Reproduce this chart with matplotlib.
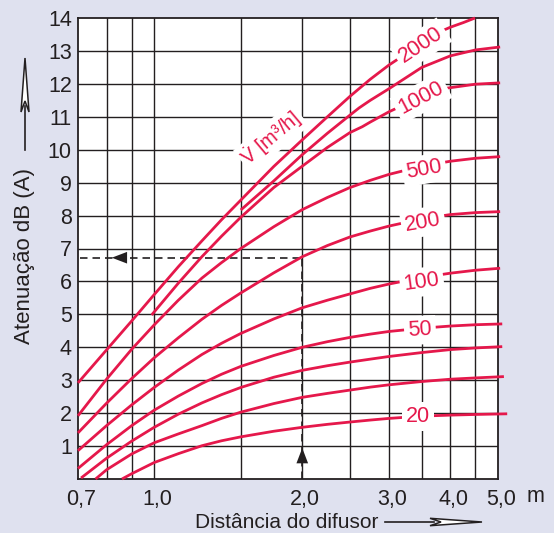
import matplotlib.pyplot as plt
from matplotlib.patches import Polygon
from matplotlib.ticker import NullLocator
from matplotlib.transforms import ScaledTranslation

plt.rcParams['font.family'] = ['Liberation Sans', 'DejaVu Sans']
plt.rcParams['mathtext.fontset'] = 'custom'
plt.rcParams['mathtext.rm'] = 'Liberation Sans'
plt.rcParams['mathtext.it'] = 'Liberation Sans:italic'

RED = '#e5184b'
BG = '#dfe1ef'
INK = '#231f20'

# attenuation dB(A) against distance from the diffuser [m], one curve per airflow
x_2000 = [0.7, 0.8, 0.9, 1.0, 1.12, 1.25, 1.37, 1.5, 1.75, 2.0, 2.25, 2.5, 2.75, 3.0, 3.5,
          3.85, 4.0, 4.25, 4.49]
y_2000 = [2.92, 3.92, 4.80, 5.60, 6.45, 7.23, 7.87, 8.47, 9.49, 10.30, 11.0, 11.62, 12.14,
          12.57, 13.23, 13.61, 13.72, 13.86, 14.0]
x_1500 = [1.5, 1.75, 2.0, 2.25, 2.5, 2.61, 2.75, 3.0, 3.5, 4.0, 4.5, 5.05]
y_1500 = [8.17, 9.05, 9.85, 10.50, 11.05, 11.27, 11.50, 11.85, 12.50, 12.85, 13.03, 13.12]
x_1000 = [0.988, 1.12, 1.25, 1.37, 1.5, 1.75, 2.0, 2.25, 2.5, 2.65, 2.75, 3.0, 3.5, 3.94,
          4.5, 5.05]
y_1000 = [4.98, 5.95, 6.75, 7.37, 7.95, 8.85, 9.50, 10.07, 10.52, 10.70, 10.84, 11.15, 11.62,
          11.87, 11.99, 12.03]
x_500 = [0.7, 0.8, 0.9, 1.0, 1.118, 1.25, 1.37, 1.5, 1.75, 2.0, 2.25, 2.5, 2.75, 3.0, 3.5,
         4.0, 4.5, 5.05]
y_500 = [1.92, 3.03, 3.94, 4.68, 5.42, 6.10, 6.57, 7.00, 7.66, 8.18, 8.55, 8.85, 9.07, 9.25,
         9.50, 9.65, 9.74, 9.79]
x_200 = [0.7, 0.8, 0.9, 1.0, 1.12, 1.25, 1.37, 1.5, 1.75, 2.0, 2.25, 2.5, 2.75, 3.0, 3.5,
         4.0, 4.5, 5.05]
y_200 = [1.40, 2.30, 3.05, 3.68, 4.29, 4.85, 5.27, 5.65, 6.26, 6.75, 7.09, 7.35, 7.53, 7.68,
         7.90, 8.03, 8.09, 8.12]
x_100 = [0.7, 0.8, 0.9, 1.0, 1.12, 1.25, 1.37, 1.5, 1.75, 2.0, 2.25, 2.5, 2.75, 3.0, 3.5,
         4.0, 4.5, 5.05]
y_100 = [0.86, 1.62, 2.25, 2.78, 3.31, 3.78, 4.12, 4.42, 4.86, 5.20, 5.43, 5.62, 5.79, 5.92,
         6.12, 6.25, 6.34, 6.40]
x_50 = [0.7, 0.8, 0.9, 1.0, 1.12, 1.25, 1.37, 1.5, 1.75, 2.0, 2.25, 2.5, 2.75, 3.0, 3.5,
        4.0, 4.5, 5.1]
y_50 = [0.32, 1.04, 1.62, 2.09, 2.52, 2.90, 3.18, 3.42, 3.75, 4.00, 4.17, 4.30, 4.40, 4.48,
        4.58, 4.645, 4.685, 4.71]
x_40 = [0.71, 0.8, 0.9, 1.0, 1.12, 1.25, 1.37, 1.5, 1.75, 2.0, 2.25, 2.5, 2.75, 3.0, 3.5,
        4.0, 4.5, 5.1]
y_40 = [0.03, 0.63, 1.15, 1.57, 1.97, 2.31, 2.56, 2.78, 3.09, 3.30, 3.44, 3.55, 3.64, 3.72,
        3.84, 3.93, 3.98, 4.02]
x_30 = [0.76, 0.8, 0.9, 1.0, 1.12, 1.25, 1.37, 1.5, 1.75, 2.0, 2.25, 2.5, 2.75, 3.0, 3.5,
        4.0, 4.5, 5.14]
y_30 = [0.0, 0.28, 0.76, 1.10, 1.37, 1.62, 1.84, 2.03, 2.29, 2.48, 2.60, 2.70, 2.79, 2.86,
        2.96, 3.03, 3.07, 3.11]
x_20 = [0.86, 0.9, 1.0, 1.12, 1.25, 1.37, 1.5, 1.75, 2.0, 2.25, 2.5, 2.75, 3.0, 3.5, 4.0,
        4.5, 5.22]
y_20 = [0.0, 0.16, 0.50, 0.77, 1.01, 1.16, 1.28, 1.45, 1.57, 1.66, 1.73, 1.79, 1.84, 1.91,
        1.94, 1.96, 1.98]

curves = [(x_2000, y_2000), (x_1500, y_1500), (x_1000, y_1000), (x_500, y_500),
          (x_200, y_200), (x_100, y_100), (x_50, y_50), (x_40, y_40),
          (x_30, y_30), (x_20, y_20)]

x_ticks = [0.7, 1.0, 2.0, 3.0, 4.0, 5.0]
x_tick_labels = ['0,7', '1,0', '2,0', '3,0', '4,0', '5,0']
x_grid = [0.8, 0.9, 1.0, 1.5, 2.0, 2.5, 3.0, 3.5, 4.0, 4.5]
y_ticks = list(range(1, 15))

# worked example: 200 m³/h at 2,0 m gives about 6,7 dB(A)
example_x = 2.0
example_y = 6.72

fig = plt.figure(figsize=(5.54, 5.33), dpi=100, facecolor=BG)
ax = fig.add_axes([78 / 554, 54 / 533, 420 / 554, 461 / 533])
ax.set_facecolor('white')
ax.set_xscale('log')
ax.set_xlim(0.7, 5.0)
ax.set_ylim(0, 14)

for xv in x_grid:
    ax.axvline(xv, color=INK, lw=1.0, zorder=1)
for yv in range(1, 14):
    ax.axhline(yv, color=INK, lw=1.0, zorder=1)
for sp in ax.spines.values():
    sp.set_color(INK)
    sp.set_linewidth(1.3)

ax.set_xticks(x_ticks)
ax.set_xticklabels(x_tick_labels)
ax.xaxis.set_minor_locator(NullLocator())
ax.set_yticks(y_ticks)
ax.tick_params(length=0, labelsize=15.5, colors=INK)
ax.tick_params(axis='x', pad=7.5)
ax.tick_params(axis='y', pad=4.5)
nudge = ScaledTranslation(3 / 100, 0, fig.dpi_scale_trans)
for lbl in ax.get_xticklabels():
    lbl.set_transform(lbl.get_transform() + nudge)
ax.text(1.068, -0.0499, 'm', transform=ax.transAxes, fontsize=15.5, color=INK,
        ha='left', va='baseline')

for xs, ys in curves:
    ax.plot(xs, ys, color=RED, lw=2.0, solid_capstyle='butt', solid_joinstyle='round',
            zorder=3, clip_on=False)

# flow labels sit on white patches that cut the curves and the grid
labels = [('2000', 3.49, 13.18, 34), ('1000', 3.49, 11.57, 28), ('500', 3.54, 9.40, 10),
          ('200', 3.52, 7.80, 10), ('100', 3.50, 5.98, 8), ('50', 3.47, 4.52, 3),
          ('20', 3.44, 1.89, 0)]
for txt, lx, ly, rot in labels:
    ax.text(lx, ly, txt, color=RED, fontsize=15.5, rotation=rot, ha='center', va='center',
            rotation_mode='anchor', zorder=4,
            bbox=dict(boxstyle='square,pad=0.18', fc='white', ec='none'))

ax.text(1.73, 10.35, r'$\dot{\mathrm{V}}$ [m³/h]', color=RED, fontsize=14.5, rotation=40,
        ha='center', va='center', rotation_mode='anchor', zorder=4,
        bbox=dict(boxstyle='square,pad=0.1', fc='white', ec='none'))

# dashed reading lines with their arrowheads
dash = (0, (4.5, 3))
ax.plot([example_x, example_x], [0, example_y], color=INK, lw=1.2, ls=dash, zorder=2)
ax.plot([0.705, example_x], [example_y, example_y], color=INK, lw=1.2, ls=dash, zorder=2)
head = dict(arrowstyle='-|>,head_length=1.1,head_width=0.42', mutation_scale=10,
            color=INK, lw=0, shrinkA=0, shrinkB=0)
ax.annotate('', xy=(example_x, 0.94), xytext=(example_x, 0.45), arrowprops=head, zorder=5)
ax.annotate('', xy=(0.82, example_y), xytext=(0.9, example_y), arrowprops=head, zorder=5)

# axis titles with their long arrows
fig.text(287 / 554, 1 - 523 / 533, 'Distância do difusor', fontsize=15, color=INK,
         ha='center', va='center')
fig.text(25 / 554, 1 - 256 / 533, 'Atenuação dB (A)', fontsize=16, color=INK,
         ha='center', va='center', rotation=90)


def px(x, y):
    return (x / 554, 1 - y / 533)


fig.add_artist(plt.Line2D([385 / 554, 434 / 554], [1 - 522 / 533] * 2, color=INK, lw=1.2))
fig.add_artist(Polygon([px(482, 522), px(430, 518.3), px(441, 522), px(430, 525.7)],
                       closed=True, fc='white', ec=INK, lw=1.1, transform=fig.transFigure))
fig.add_artist(plt.Line2D([25 / 554] * 2, [1 - 150 / 533, 1 - 106 / 533], color=INK, lw=1.2))
fig.add_artist(Polygon([px(25, 58), px(21, 112), px(25, 101), px(29, 112)],
                       closed=True, fc='white', ec=INK, lw=1.1, transform=fig.transFigure))

fig.savefig('out.png', dpi=100, facecolor=BG)
